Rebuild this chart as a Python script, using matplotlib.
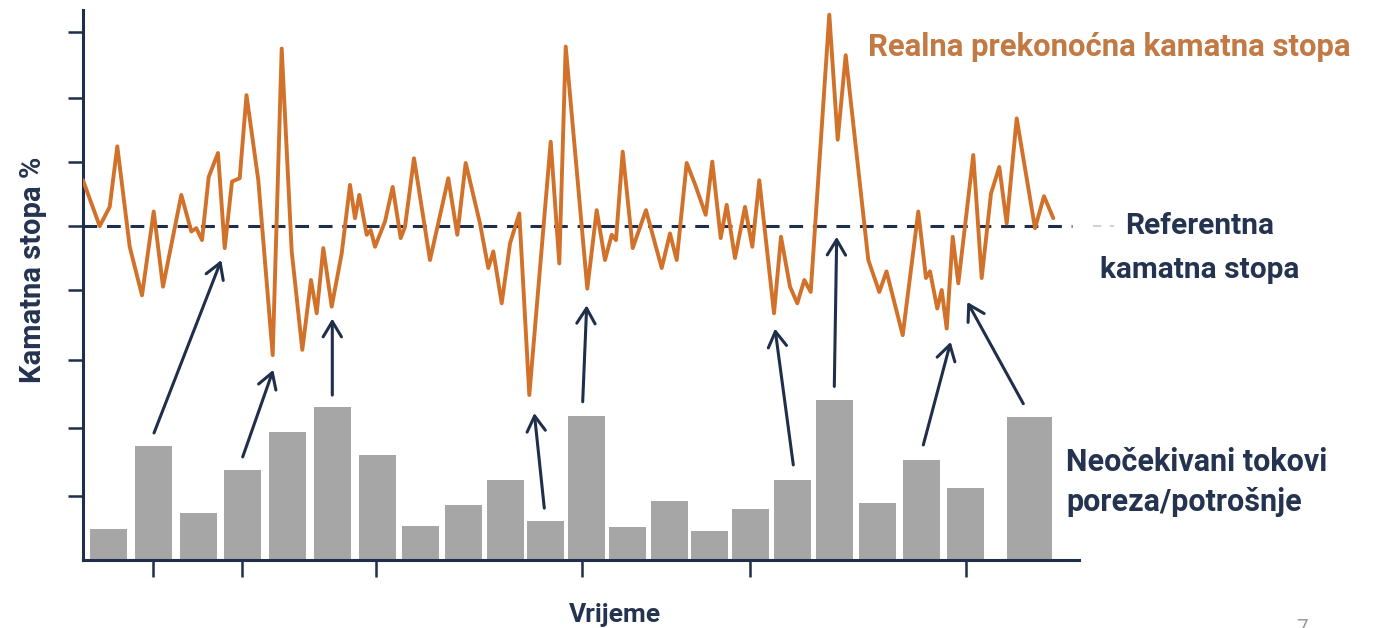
import matplotlib
matplotlib.use("Agg")
import matplotlib.pyplot as plt

# ---------------- data ----------------
rate_time = [0, 16.7, 26.7, 34.3, 46.7, 59, 70.7, 80, 98.3, 108.3, 113.3, 119, 125.7, 135, 141.7,
             149, 156.7, 163.5, 175.3, 189.7, 198.7, 208.7, 219.3, 228, 233.7, 240.3, 248.7, 258.7,
             267, 272, 276.3, 283.7, 287.7, 292, 302, 309.7, 317.7, 322, 331, 347, 365.3, 374.3,
             382.7, 397, 405.3, 410.3, 418.7, 427, 436.3, 446.3, 467.7, 476.3, 482.7, 504.3, 513.7,
             522, 528.7, 533, 539.7, 549.7, 563, 578.7, 587, 593.7, 603.7, 612, 622.7, 629.3, 637.7,
             643.7, 652, 662, 669.3, 676.3, 691, 698, 707, 714.3, 721.3, 727.7, 746.3, 754.7, 762.7,
             785.3, 796.3, 803.5, 819.7, 835.3, 843, 847, 854.3, 858.7, 863.7, 869.7, 875.3, 890.3,
             898.7, 908, 916.3, 923.7, 933.7, 952, 961, 970.3]
rate_value = [5.71, 5.02, 5.31, 6.22, 4.71, 3.98, 5.24, 4.11, 5.49, 4.94, 4.99, 4.81, 5.76, 6.12, 4.69,
              5.69, 5.74, 6.99, 5.71, 3.08, 7.69, 4.64, 3.16, 4.21, 3.71, 4.69, 3.81, 4.61,
              5.64, 5.14, 5.49, 4.89, 4.96, 4.71, 5.09, 5.61, 4.84, 5.01, 6.04, 4.51, 5.74, 4.89,
              5.97, 5.06, 4.39, 4.64, 3.86, 4.76, 5.21, 2.48, 6.29, 4.46, 7.72, 4.08, 5.26,
              4.51, 4.89, 4.81, 6.14, 4.69, 5.26, 4.39, 4.91, 4.51, 5.97, 5.65, 5.19, 5.99, 4.84,
              5.34, 4.54, 5.31, 4.71, 5.71, 3.71, 4.86, 4.11, 3.86, 4.21, 4.03, 8.20, 6.32, 7.59,
              4.51, 4.03, 4.34, 3.38, 5.24, 4.24, 4.34, 3.78, 4.06, 3.48, 4.86, 4.16, 6.09,
              4.24, 5.51, 5.91, 5.06, 6.64, 4.99, 5.47, 5.14]

reference_rate = 5.02

flow_time = [25.2, 70.3, 115, 159.7, 204.7, 249.7, 294, 337.5, 380.3, 422, 462, 503, 544.2,
             586.5, 626.8, 667.3, 709, 751.5, 794.3, 838.2, 882, 946.8]
flow_value = [0.47, 1.71, 0.71, 1.35, 1.92, 2.30, 1.58, 0.51, 0.82, 1.20, 0.58, 2.17, 0.50,
              0.88, 0.44, 0.76, 1.20, 2.41, 0.86, 1.51, 1.08, 2.15]

# arrows: (tail_time, tail_value) -> (head_time, head_value)
arrow_tail_time = [71, 159.7, 249.3, 461.3, 499.7, 710.3, 751.3, 840.3, 940.3]
arrow_tail_value = [1.91, 1.55, 2.48, 0.78, 2.38, 1.43, 2.61, 1.73, 2.35]
arrow_head_time = [138.3, 190.3, 249.3, 451.3, 503.7, 692, 753.7, 867.7, 884.3]
arrow_head_value = [4.51, 2.86, 3.63, 2.21, 3.83, 3.48, 4.86, 3.28, 3.88]

x_ticks = [70, 159, 293, 499, 667, 883]
y_ticks = [0.96, 1.98, 3.01, 4.06, 5.02, 5.98, 6.95, 7.94]

title_text = "Realna prekonoćna kamatna stopa"
ref_text = "Referentna\nkamatna stopa"
flow_text = "Neočekivani tokovi\nporeza/potrošnje"
ylabel_text = "Kamatna stopa %"
xlabel_text = "Vrijeme"

# ---------------- style ----------------
NAVY = "#1f2e4b"
TEXT_NAVY = "#243450"
ORANGE = "#d2712a"
ORANGE_TEXT = "#c27a44"
GRAY = "#a6a6a6"
FONT = ["Roboto", "DejaVu Sans"]

W, H = 1390, 628
fig = plt.figure(figsize=(W / 100, H / 100), dpi=100)
ax = fig.add_axes([83 / W, 1 - 560 / H, (1079 - 83) / W, (560 - 10) / H])
ax.set_xlim(0, 996)
ax.set_ylim(0, 8.27)

widths = [37] * (len(flow_time) - 1) + [45]
ax.bar(flow_time, flow_value, width=widths, color=GRAY, zorder=1)

ax.plot([0, 989], [reference_rate, reference_rate], color=NAVY, lw=2.2,
        linestyle=(0, (4.5, 3.2)), zorder=2)
ax.plot(rate_time, rate_value, color=ORANGE, lw=2.8, zorder=3,
        solid_joinstyle="round", solid_capstyle="round")

for tt, tv, ht, hv in zip(arrow_tail_time, arrow_tail_value, arrow_head_time, arrow_head_value):
    ax.annotate("", xy=(ht, hv), xytext=(tt, tv),
                arrowprops=dict(arrowstyle="->,head_length=0.55,head_width=0.33",
                                color=NAVY, lw=2.2, mutation_scale=20,
                                shrinkA=0, shrinkB=0), zorder=4)

for s in ["top", "right"]:
    ax.spines[s].set_visible(False)
for s in ["left", "bottom"]:
    ax.spines[s].set_color(NAVY)
    ax.spines[s].set_linewidth(2.2)
ax.set_xticks(x_ticks)
ax.set_yticks(y_ticks)
ax.set_xticklabels([])
ax.set_yticklabels([])
ax.tick_params(axis="x", length=12, width=1.8, color=NAVY, direction="out")
ax.tick_params(axis="y", length=11, width=1.8, color=NAVY, direction="out")

ax.set_ylabel(ylabel_text, fontsize=21, fontweight="bold", color=TEXT_NAVY, family=FONT)
ax.yaxis.set_label_coords(-36 / (1079 - 83), (560 - 270) / 550)
ax.set_xlabel(xlabel_text, fontsize=19, fontweight="bold", color=TEXT_NAVY, family=FONT)
ax.xaxis.set_label_coords((615 - 83) / (1079 - 83), -(615 - 560) / 550)
ax.xaxis.label.set_va("center")

fig.text(1350 / W, 1 - 47 / H, title_text, ha="right", va="center", fontsize=22.4,
         fontweight="bold", color=ORANGE_TEXT, family=FONT)
fig.text(1200 / W, 1 - 248 / H, ref_text, ha="center", va="center", fontsize=21.5,
         fontweight="bold", color=TEXT_NAVY, family=FONT, linespacing=1.69, multialignment="center")
fig.text(1066 / W, 1 - 482 / H, flow_text, ha="left", va="center", fontsize=22,
         fontweight="bold", color=TEXT_NAVY, family=FONT, linespacing=1.45)

# faint dashes right of the reference line and partial page number
fig.add_artist(plt.Line2D([1093 / W, 1114 / W], [1 - 226 / H, 1 - 226 / H], color="#c8c8c8",
                          lw=1.2, linestyle=(0, (5, 5))))
fig.text(1296 / W, 1 - 619 / H, "7", ha="left", va="top", fontsize=15, color="#9a9a9a", family=FONT)

fig.savefig("out.png", dpi=100, facecolor="white")
